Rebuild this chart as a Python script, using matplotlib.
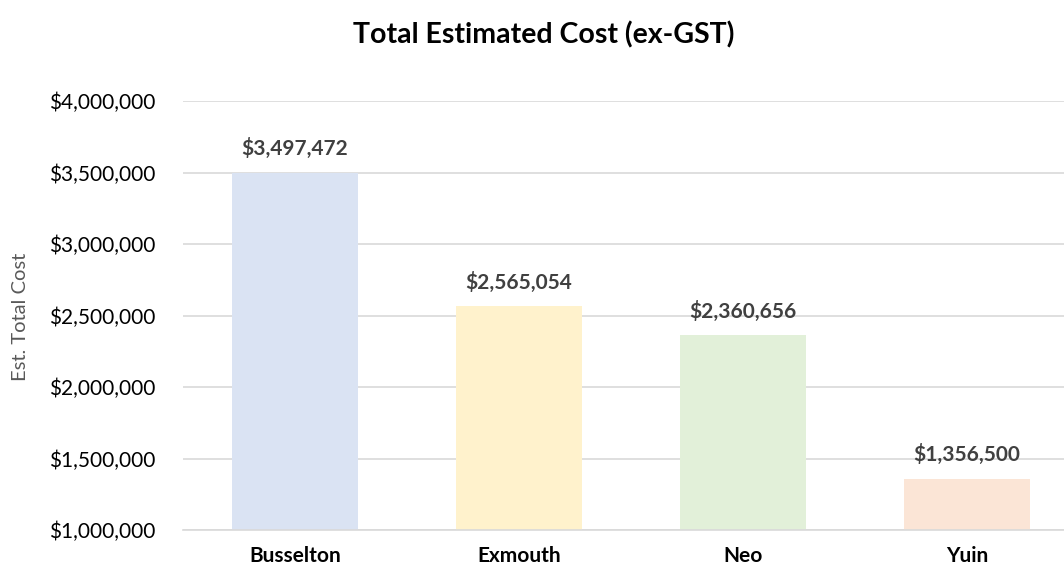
import matplotlib.pyplot as plt
from matplotlib.ticker import FuncFormatter, MultipleLocator

plt.rcParams['font.family'] = ['Lato', 'DejaVu Sans']

sites = ["Busselton", "Exmouth", "Neo", "Yuin"]
costs = [3497472, 2565054, 2360656, 1356500]
bar_colors = ["#DAE3F3", "#FFF2CC", "#E2F0D9", "#FBE5D6"]

fig = plt.figure(figsize=(10.64, 5.70), dpi=100)
# plot area runs a little past the right edge of the canvas
ax = fig.add_axes([183 / 1064, 1 - 530 / 570, 896 / 1064, 429 / 570])

x = range(len(sites))
ax.bar(x, costs, width=0.56, color=bar_colors, zorder=2)

for i, v in enumerate(costs):
    ax.text(i, v + 95000, f"${v:,.0f}", ha="center", va="bottom",
            fontsize=15, fontweight="bold", color="#404040")

ax.set_ylim(1000000, 4000000)
ax.set_xlim(-0.5, len(sites) - 0.5)
ax.yaxis.set_major_locator(MultipleLocator(500000))
ax.yaxis.set_major_formatter(FuncFormatter(lambda v, p: f"${v:,.0f}"))
ax.grid(axis="y", color="#D9D9D9", lw=1.2, zorder=0)

ax.set_xticks(list(x))
ax.set_xticklabels(sites, fontsize=15, fontweight="bold")
ax.tick_params(axis="x", length=0, pad=11.5)
ax.tick_params(axis="y", length=0, pad=20, labelsize=15)

for s in ["top", "right", "left"]:
    ax.spines[s].set_visible(False)
ax.spines["bottom"].set_color("#D9D9D9")
ax.spines["bottom"].set_linewidth(1.2)

fig.text(21 / 1064, 1 - 317 / 570, "Est. Total Cost", rotation=90,
         ha="center", va="center", fontsize=14.5, color="#595959")

fig.text(544 / 1064, 1 - 35 / 570, "Total Estimated Cost (ex-GST)",
         ha="center", va="center", fontsize=20.5, fontweight="bold")

fig.savefig("out.png", dpi=100)
